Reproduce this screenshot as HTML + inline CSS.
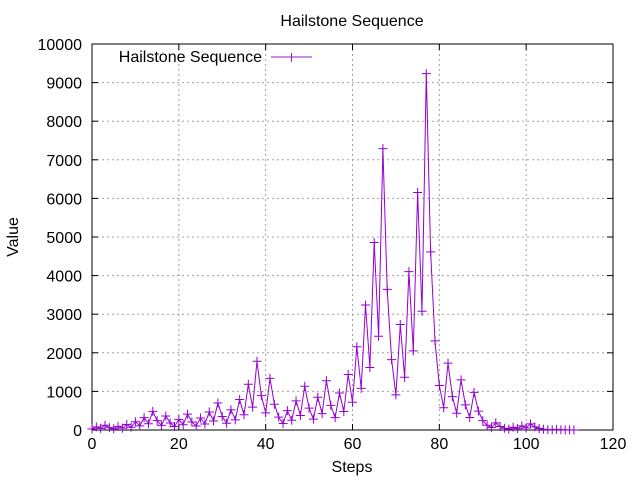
<!DOCTYPE html>
<html><head><meta charset="utf-8"><style>
body{margin:0;background:#fff}
svg{display:block;font-family:"Liberation Sans",sans-serif;font-size:16px}
</style></head><body>
<svg id="s" width="640" height="480" viewBox="0 0 640 480">
<rect width="640" height="480" fill="#fff"/>
<g id="grid" stroke="#a0a0a0" stroke-width="1" stroke-dasharray="2,3"></g>
<rect x="92" y="44" width="521" height="386" fill="none" stroke="#000" stroke-width="1"/>
<g id="ticks" stroke="#000"></g>
<g id="labels"></g>
<text x="352" y="26" text-anchor="middle">Hailstone Sequence</text>
<text x="352" y="472" text-anchor="middle">Steps</text>
<text x="18" y="237" text-anchor="middle" transform="rotate(-90 18 237)">Value</text>
<text x="262" y="62" text-anchor="end">Hailstone Sequence</text>
<line x1="271" y1="57" x2="312" y2="57" stroke="#8a1fc8" stroke-width="1"/>
<path d="M287 57h9M291.5 53v9" stroke="#8a1fc8"/>
<polyline id="pl" fill="none" stroke="#9400d3" stroke-width="1"/>
<path id="mk" fill="none" stroke="#9400d3" stroke-width="1"/>
</svg>
<script>
var ns="http://www.w3.org/2000/svg";
function X(v){return 92+v*521/120}
function Y(v){return 430-v*386/10000}
var g=document.getElementById('grid'),t=document.getElementById('ticks'),l=document.getElementById('labels');
function el(p,n,a,txt){var e=document.createElementNS(ns,n);for(var k in a)e.setAttribute(k,a[k]);if(txt!=null)e.textContent=txt;p.appendChild(e);}
for(var i=0;i<=120;i+=20){var x=X(i);
 if(i>0&&i<120)el(g,'line',{x1:x,y1:44,x2:x,y2:430});
 el(t,'line',{x1:x,y1:430,x2:x,y2:424});el(t,'line',{x1:x,y1:44,x2:x,y2:50});
 el(l,'text',{x:x,y:449,'text-anchor':'middle'},String(i));}
for(var v=0;v<=10000;v+=1000){var y=Y(v);
 if(v>0&&v<10000)el(g,'line',{x1:92,y1:y,x2:613,y2:y});
 el(t,'line',{x1:92,y1:y,x2:98,y2:y});el(t,'line',{x1:613,y1:y,x2:607,y2:y});
 el(l,'text',{x:82,y:y+6,'text-anchor':'end'},String(v));}
var n=27,a=[n];while(n!=1){n=n%2?3*n+1:n/2;a.push(n);}
var pts=[],d='';
for(var i=0;i<a.length;i++){var x=X(i),y=Y(a[i]);pts.push(x.toFixed(1)+','+y.toFixed(1));
 d+='M'+(x-4.5)+' '+y+'h9M'+x+' '+(y-4.5)+'v9';}
document.getElementById('pl').setAttribute('points',pts.join(' '));
document.getElementById('mk').setAttribute('d',d);
</script>
</body></html>
